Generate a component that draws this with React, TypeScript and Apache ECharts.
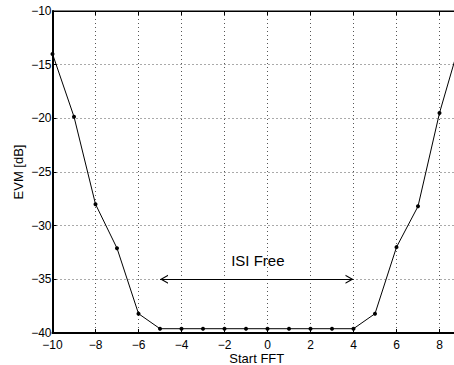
import React, { useEffect, useRef } from "react";
import * as echarts from "echarts";

const xValues = [-10, -9, -8, -7, -6, -5, -4, -3, -2, -1, 0, 1, 2, 3, 4, 5, 6, 7, 8, 9];
const evmValues = [-14.0, -19.85, -28.0, -32.1, -38.2, -39.6, -39.6, -39.6, -39.6, -39.6, -39.6, -39.6, -39.6, -39.6, -39.6, -38.2, -32.0, -28.2, -19.5, -12.6];
const arrowStart = [-5, -35];
const arrowEnd = [4, -35];
const annotationText = "ISI Free";
const annotationPos = [-0.45, -33.2];

const FONT = "Liberation Sans, Arial, Helvetica, sans-serif";
const minusFmt = (v: number) => String(v).replace("-", "\u2212");
const chevron = "path://M5,0 L10,9 L8.6,9 L5,2.6 L1.4,9 L0,9 Z";

export default function App() {
  const ref = useRef<HTMLDivElement>(null);
  useEffect(() => {
    if (!ref.current) return;
    const chart = echarts.init(ref.current, null, { renderer: "svg" });
    chart.setOption({
      animation: false,
      backgroundColor: "#ffffff",
      textStyle: { fontFamily: FONT },
      grid: {
        left: 52.5,
        top: 11,
        width: 408.5,
        height: 322,
        show: true,
        borderColor: "#000",
        borderWidth: 1,
        containLabel: false,
        outerBoundsMode: "none",
      },
      xAxis: [
        {
          type: "value",
          min: -10,
          max: 9,
          interval: 2,
          name: "Start FFT",
          nameLocation: "middle",
          nameGap: 18.5,
          nameMoveOverlap: false,
          nameTextStyle: { fontSize: 13, color: "#000", fontFamily: FONT, lineHeight: 13 },
          axisLine: { show: true, onZero: false, lineStyle: { color: "#000", width: 2 } },
          axisTick: { show: true, inside: true, length: 4, lineStyle: { color: "#000" } },
          axisLabel: { formatter: minusFmt, fontSize: 12, color: "#000", margin: 6, fontFamily: FONT, showMaxLabel: false },
          splitLine: { show: true, lineStyle: { color: "#555", type: [1, 3], width: 1 } },
        },
        {
          type: "value",
          position: "top",
          min: -10,
          max: 9,
          interval: 2,
          axisLine: { show: true, onZero: false, lineStyle: { color: "#000", width: 1 } },
          axisTick: { show: true, inside: true, length: 4, lineStyle: { color: "#000" } },
          axisLabel: { show: false },
          splitLine: { show: false },
        },
      ],
      yAxis: {
        type: "value",
        min: -40,
        max: -10,
        interval: 5,
        name: "EVM [dB]",
        nameLocation: "middle",
        nameGap: 28,
        nameMoveOverlap: false,
        nameTextStyle: { fontSize: 13, color: "#000", fontFamily: FONT, lineHeight: 13 },
        axisLine: { show: true, onZero: false, lineStyle: { color: "#000", width: 2 } },
        axisTick: { show: true, inside: true, length: 4, lineStyle: { color: "#000" } },
        axisLabel: { formatter: minusFmt, fontSize: 12, color: "#000", margin: 1, fontFamily: FONT },
        splitLine: { show: true, lineStyle: { color: "#555", type: [1, 3], width: 1 } },
      },
      series: [
        {
          type: "line",
          data: xValues.map((x, i) => [x, evmValues[i]]),
          symbol: "circle",
          symbolSize: 4,
          showSymbol: true,
          itemStyle: { color: "#000" },
          lineStyle: { color: "#000", width: 1 },
          clip: false,
          markLine: {
            silent: true,
            symbol: [chevron, chevron],
            symbolSize: [9, 8],
            symbolOffset: [[0, 4], [0, 4]],
            lineStyle: { color: "#000", width: 1, type: "solid" },
            label: { show: false },
            data: [[{ coord: arrowStart }, { coord: arrowEnd }]],
          },
          markPoint: {
            silent: true,
            symbol: "circle",
            symbolSize: 0,
            label: {
              show: true,
              position: "inside",
              formatter: annotationText,
              fontSize: 15,
              color: "#000",
              fontFamily: FONT,
            },
            data: [{ coord: annotationPos }],
          },
        },
      ],
    });
    return () => chart.dispose();
  }, []);
  return (
    <div
      ref={ref}
      style={{ position: "absolute", left: 0, top: 0, width: 454, height: 365, background: "#fff" }}
    />
  );
}
